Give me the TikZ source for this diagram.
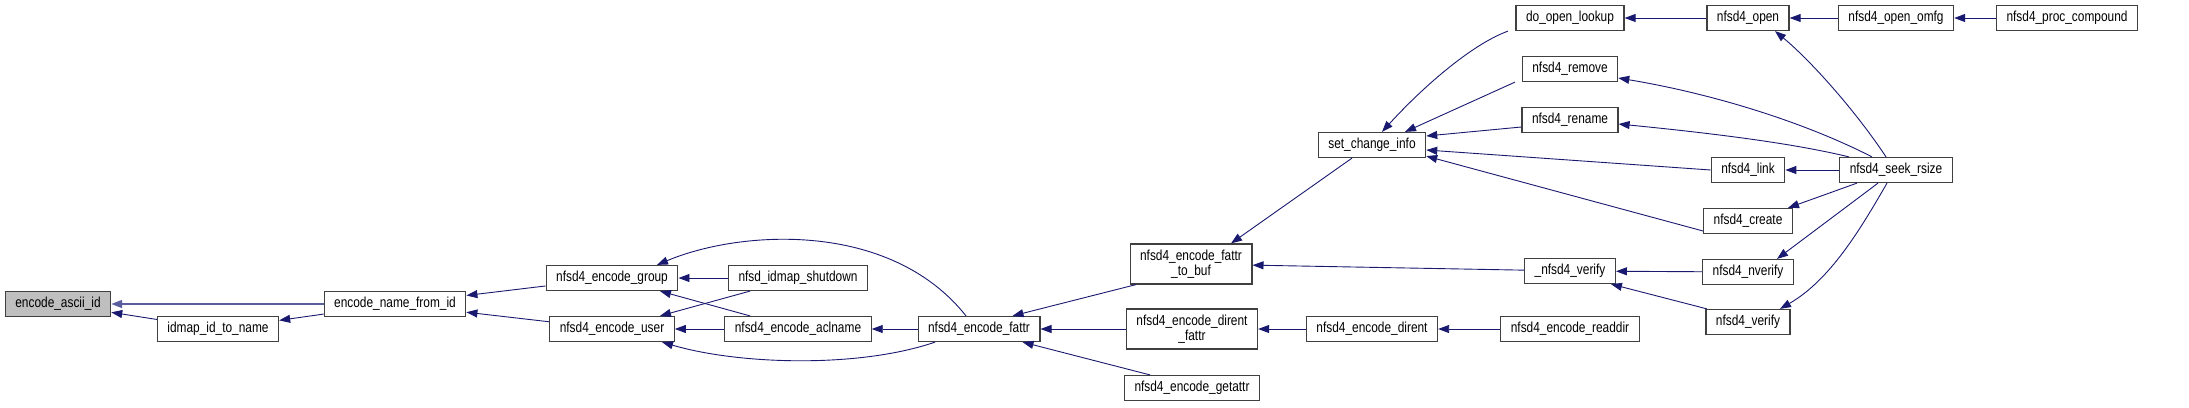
\documentclass[tikz,border=0pt]{standalone}
\usepackage{fontspec}
\setmainfont{Liberation Sans}[FakeStretch=0.82]
\usepackage{xcolor}
\usepackage{tikz}
\usetikzlibrary{arrows.meta, positioning, calc}
\definecolor{callblue}{HTML}{191970}
\definecolor{calllight}{HTML}{5A5E9E}
\definecolor{boxgray}{HTML}{BFBFBF}
\definecolor{boxline}{HTML}{404040}

\begin{document}
\begin{tikzpicture}[x=1pt, y=-1pt,
    fn/.style={draw=boxline, line width=1.2pt, fill=white, inner xsep=10pt, inner ysep=0pt,
        minimum height=25pt, align=center, font=\fontsize{14.5}{15}\selectfont},
    call/.style={draw=callblue, line width=0.9pt, {Triangle[length=11pt, width=8pt]}-}]
    \useasboundingbox (0,0) rectangle (2189,407);

    % start of the graph
    \node[fn, fill=boxgray] (ascii) at (58, 304) {encode\_ascii\_id};
    \node[fn] (idmap) at (218, 329) {idmap\_id\_to\_name};
    \node[fn] (namefromid) at (395, 304) {encode\_name\_from\_id};

    % group / user
    \node[fn] (group) at (612, 278) {nfsd4\_encode\_group};
    \node[fn] (user) at (612, 329) {nfsd4\_encode\_user};
    \node[fn] (shutdown) at (798, 278) {nfsd\_idmap\_shutdown};
    \node[fn] (aclname) at (798, 329) {nfsd4\_encode\_aclname};
    \node[fn] (fattr) at (979, 329) {nfsd4\_encode\_fattr};

    % encoders
    \node[fn, minimum height=40pt] (fattrbuf) at (1191, 264) {nfsd4\_encode\_fattr\\\_to\_buf};
    \node[fn, minimum height=40pt] (direntfattr) at (1192, 329) {nfsd4\_encode\_dirent\\\_fattr};
    \node[fn] (getattr) at (1192, 388) {nfsd4\_encode\_getattr};
    \node[fn] (setchange) at (1372, 145) {set\_change\_info};
    \node[fn] (dirent) at (1372, 329) {nfsd4\_encode\_dirent};

    % callers of set_change_info
    \node[fn] (openlookup) at (1570, 18) {do\_open\_lookup};
    \node[fn] (remove) at (1570, 69) {nfsd4\_remove};
    \node[fn] (rename) at (1570, 120) {nfsd4\_rename};
    \node[fn] (verifyu) at (1570, 271) {\_nfsd4\_verify};
    \node[fn] (readdir) at (1570, 329) {nfsd4\_encode\_readdir};
    \node[fn] (open) at (1748, 18) {nfsd4\_open};
    \node[fn] (link) at (1748, 170) {nfsd4\_link};
    \node[fn] (create) at (1748, 221) {nfsd4\_create};
    \node[fn] (nverify) at (1748, 272) {nfsd4\_nverify};
    \node[fn] (verify) at (1748, 322) {nfsd4\_verify};

    % right end
    \node[fn] (omfg) at (1896, 18) {nfsd4\_open\_omfg};
    \node[fn] (compound) at (2067, 18) {nfsd4\_proc\_compound};
    \node[fn] (seek) at (1896, 170) {nfsd4\_seek\_rsize};

    % Arrows
    \draw[call, draw=calllight, line width=1.6pt] (ascii) -- (namefromid);
    \draw[call] (ascii) -- (idmap);
    \draw[call] (idmap) -- (namefromid);
    \draw[call] (namefromid) -- (group);
    \draw[call] (namefromid) -- (user);
    \draw[call] (group) -- (shutdown);
    \draw[call] ([xshift=45]group.north) .. controls (740, 230) and (890, 220) .. ([xshift=-13]fattr.north);
    \draw[call] ([xshift=48]user.north) -- ([xshift=-48]shutdown.south);
    \draw[call] ([xshift=48]group.south) -- ([xshift=-48]aclname.north);
    \draw[call] (user) -- (aclname);
    \draw[call] ([xshift=50]user.south) .. controls (740, 365) and (860, 368) .. ([xshift=-44]fattr.south);
    \draw[call] (aclname) -- (fattr);
    \draw[call] ([xshift=-28]fattr.north east) -- ([xshift=-55]fattrbuf.south);
    \draw[call] (fattr) -- (direntfattr);
    \draw[call] ([xshift=-18]fattr.south east) -- ([xshift=-42]getattr.north);
    \draw[call] ([xshift=40]fattrbuf.north) -- ([xshift=-20]setchange.south);
    \draw[call] (fattrbuf) -- (verifyu);
    \draw[call] (direntfattr) -- (dirent);
    \draw[call] (dirent) -- (readdir);
    \draw[call] ([xshift=10]setchange.north) .. controls (1420, 90) and (1470, 45) .. ([xshift=-62]openlookup.south);
    \draw[call] ([xshift=33]setchange.north) -- ([xshift=-55]remove.south);
    \draw[call] ([yshift=9]setchange.east) -- ([yshift=-7]rename.west);
    \draw[call] ([yshift=-5]setchange.east) -- (link.west);
    \draw[call] ([yshift=2]setchange.south east) -- ([yshift=-10]create.west);
    \draw[call] (openlookup) -- (open);
    \draw[call] (open) -- (omfg);
    \draw[call] (omfg) -- (compound);
    \draw[call] ([xshift=27]open.south) .. controls (1810, 60) and (1855, 110) .. ([xshift=-10]seek.north);
    \draw[call] ([yshift=-9]remove.east) .. controls (1720, 95) and (1810, 125) .. ([xshift=-24]seek.north);
    \draw[call] ([yshift=-4]rename.east) .. controls (1730, 135) and (1800, 145) .. ([xshift=-47]seek.north);
    \draw[call] (link) -- (seek);
    \draw[call] ([xshift=-5]create.north east) -- ([xshift=-39]seek.south);
    \draw[call] ([xshift=29]nverify.north) -- ([xshift=-18]seek.south);
    \draw[call] ([xshift=32]verify.north) .. controls (1830, 280) and (1860, 230) .. ([xshift=-9]seek.south);
    \draw[call] (verifyu) -- (nverify);
    \draw[call] ([xshift=-5]verifyu.south east) -- ([xshift=-41]verify.north);
\end{tikzpicture}
\end{document}
